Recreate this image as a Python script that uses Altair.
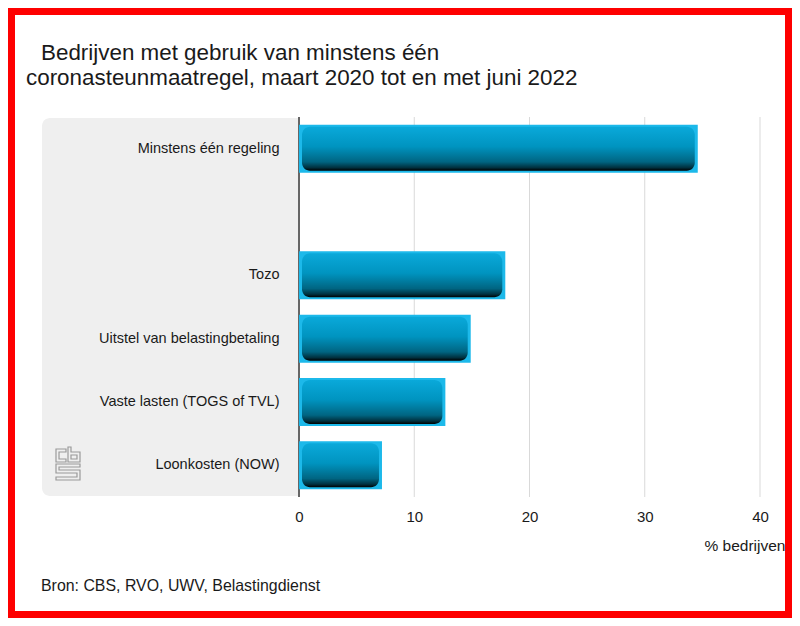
import altair as alt
import pandas as pd

# ---- data ----
categories = ["Minstens één regeling", " ", "Tozo", "Uitstel van belastingbetaling",
              "Vaste lasten (TOGS of TVL)", "Loonkosten (NOW)"]
bar_labels = ["Minstens één regeling", "Tozo", "Uitstel van belastingbetaling",
              "Vaste lasten (TOGS of TVL)", "Loonkosten (NOW)"]
bar_values = [34.6, 17.9, 14.9, 12.7, 7.2]
grid_values = [10, 20, 30, 40]
tick_values = [0, 10, 20, 30, 40]
title_line1 = "Bedrijven met gebruik van minstens één"
title_line2 = "coronasteunmaatregel, maart 2020 tot en met juni 2022"
source_text = "Bron: CBS, RVO, UWV, Belastingdienst"
x_title = "% bedrijven"

FONT = "Liberation Sans"
W, H = 461, 380
OX, OY = 299, 117  # page position of plot origin

df = pd.DataFrame({"cat": bar_labels, "v": bar_values})
one = pd.DataFrame({"a": [0]})

def px(x):
    return x - OX

def py(y):
    return y - OY

xscale = alt.Scale(domain=[0, 40], nice=False, zero=True)
yscale = alt.Scale(domain=categories, paddingInner=0, paddingOuter=0)

# white interior
white = alt.Chart(one).mark_rect(color="white").encode(
    x=alt.value(px(15)), x2=alt.value(px(785)), y=alt.value(py(15)), y2=alt.value(py(611)))

# grey label panel
panel = alt.Chart(one).mark_rect(color="#efefef", cornerRadiusTopLeft=8, cornerRadiusBottomLeft=8).encode(
    x=alt.value(px(42)), x2=alt.value(0), y=alt.value(py(118)), y2=alt.value(py(496)))

grid = alt.Chart(pd.DataFrame({"g": grid_values})).mark_rule(color="#d9d9d9", strokeWidth=1).encode(
    x=alt.X("g:Q", scale=xscale), y=alt.value(0), y2=alt.value(H))

zero = alt.Chart(pd.DataFrame({"z": [0]})).mark_rule(color="#666666", strokeWidth=2).encode(
    x=alt.X("z:Q", scale=xscale), y=alt.value(0), y2=alt.value(H))

outer = alt.Chart(df).mark_bar(color="#1cb9ea", size=48).encode(
    x=alt.X("v:Q", scale=xscale,
            axis=alt.Axis(values=tick_values, grid=False, domain=False, ticks=False, labelFlush=False,
                          labelFont=FONT, labelFontSize=15, labelColor="#1a1a1a", labelPadding=12,
                          title=x_title, titleFont=FONT, titleFontSize=15.5, titleFontWeight="normal",
                          titleColor="#1a1a1a", titleAnchor="end", titleAlign="right",
                          titleX=px(785), titleY=48, titleBaseline="middle", zindex=1)),
    y=alt.Y("cat:N", scale=yscale, sort=categories,
            axis=alt.Axis(title=None, domain=False, ticks=False, labelFont=FONT, labelFontSize=14.5,
                          labelColor="#1a1a1a", labelPadding=20, labelLimit=300, zindex=1)))

grad = alt.Gradient(gradient="linear", x1=0, y1=0, x2=0, y2=1, stops=[
    alt.GradientStop(offset=0, color="#0aa9da"),
    alt.GradientStop(offset=0.45, color="#0094c0"),
    alt.GradientStop(offset=0.8, color="#006582"),
    alt.GradientStop(offset=0.93, color="#00313f"),
    alt.GradientStop(offset=1, color="#000000")])

inner = alt.Chart(df).mark_bar(color=grad, size=44, cornerRadius=8, xOffset=-3, x2Offset=3).encode(
    x=alt.X("v:Q", scale=xscale), x2=alt.datum(0), y=alt.Y("cat:N", scale=yscale, sort=categories))

def text_layer(txt, x, y, size):
    return alt.Chart(pd.DataFrame({"t": [txt]})).mark_text(
        font=FONT, fontSize=size, align="left", baseline="alphabetic", color="#1a1a1a").encode(
        text="t:N", x=alt.value(px(x)), y=alt.value(py(y)))

t1 = text_layer(title_line1, 41, 60, 22.4)
t2 = text_layer(title_line2, 26, 85, 22.4)
src = text_layer(source_text, 41, 591, 15.9)

# cbs logo as one custom outlined symbol (page pixel polygons, centred on 68,463.5)
logo_polys = [
    [(66, 449), (56, 449), (56, 462), (66, 462), (66, 459), (59, 459), (59, 452), (66, 452)],
    [(68, 447), (71, 447), (71, 452), (80, 452), (80, 462), (68, 462)],
    [(71, 455), (77, 455), (77, 459), (71, 459)],
    [(80, 464), (56, 464), (56, 473), (77, 473), (77, 477), (56, 477), (56, 480), (80, 480),
     (80, 470), (59, 470), (59, 467), (80, 467)],
]
LCX, LCY, HALF = 68, 463.5, 17.0
path = " ".join(
    "M" + " L".join(f"{(x - LCX) / HALF:.3f},{(y - LCY) / HALF:.3f}" for (x, y) in poly) + " Z"
    for poly in logo_polys)
logo = alt.Chart(one).mark_point(shape=path, size=(2 * HALF) ** 2, filled=False,
                                 stroke="#9a9a9a", strokeWidth=1.2, opacity=1).encode(
    x=alt.value(px(LCX)), y=alt.value(py(LCY)))

chart = alt.layer(white, panel, grid, zero, outer, inner, t1, t2, src, logo).properties(
    width=W, height=H,
    padding={"left": 291, "top": 109, "right": 32, "bottom": 121},
    autosize=alt.AutoSizeParams(type="none"),
    background="#fe0000",
).configure_view(stroke=None)

chart.save("out.html", embed_options={"renderer": "svg", "actions": False})
